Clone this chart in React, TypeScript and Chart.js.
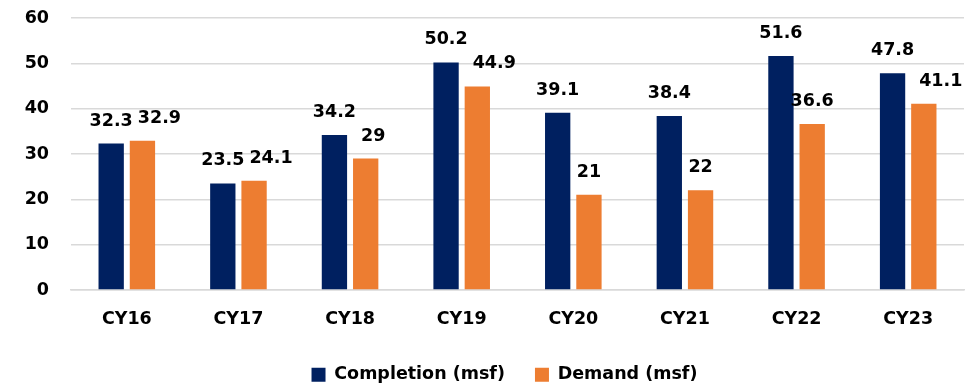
import React, { useEffect, useRef } from "react";
import { Chart, registerables } from "chart.js";

Chart.register(...registerables);

const categories = ["CY16", "CY17", "CY18", "CY19", "CY20", "CY21", "CY22", "CY23"];
const completion = [32.3, 23.5, 34.2, 50.2, 39.1, 38.4, 51.6, 47.8];
const demand = [32.9, 24.1, 29, 44.9, 21, 22, 36.6, 41.1];
const yTicks = [0, 10, 20, 30, 40, 50, 60];

const FONT = "'DejaVu Sans', sans-serif";
const FS = 17.5;

const labelPlugin = {
  id: "barLabels",
  afterDatasetsDraw(chart: any) {
    const ctx = chart.ctx;
    ctx.save();
    ctx.font = `bold ${FS}px ${FONT}`;
    ctx.fillStyle = "#000";
    ctx.textAlign = "center";
    ctx.textBaseline = "alphabetic";
    const capH = FS * 0.73;
    const m0 = chart.getDatasetMeta(0);
    const m1 = chart.getDatasetMeta(1);
    const d0 = chart.data.datasets[0].data;
    const d1 = chart.data.datasets[1].data;
    m0.data.forEach((b0: any, j: number) => {
      const b1 = m1.data[j];
      const t0 = String(d0[j]);
      const t1 = String(d1[j]);
      const w0 = ctx.measureText(t0).width;
      const w1 = ctx.measureText(t1).width;
      const y0 = b0.y - 18;
      const y1 = b1.y - 18;
      let x1 = b1.x;
      const r0 = b0.x + w0 / 2;
      const vOverlap = Math.abs(y0 - y1) < capH + 20;
      if (vOverlap && x1 - w1 / 2 < r0 + 5) {
        x1 = r0 + 5 + w1 / 2;
      }
      ctx.fillText(t0, b0.x, y0);
      ctx.fillText(t1, x1, y1);
    });
    ctx.restore();
  },
};

const legendShift = {
  id: "legendShift",
  afterLayout(chart: any) {
    if (chart.legend) {
      chart.legend.left += 10;
      chart.legend.right += 10;
    }
  },
};

export default function App() {
  const ref = useRef<HTMLCanvasElement>(null);
  useEffect(() => {
    if (!ref.current) return;
    const chart = new Chart(ref.current, {
      type: "bar",
      data: {
        labels: categories,
        datasets: [
          {
            label: "Completion (msf)",
            data: completion,
            backgroundColor: "#002060",
            categoryPercentage: 0.56,
            barPercentage: 0.81,
          },
          {
            label: "Demand (msf)",
            data: demand,
            backgroundColor: "#ED7D31",
            categoryPercentage: 0.56,
            barPercentage: 0.81,
          },
        ],
      },
      options: {
        animation: false,
        responsive: false,
        maintainAspectRatio: false,
        layout: { padding: { top: 0, right: 7, left: 17, bottom: 0 } },
        plugins: {
          legend: {
            position: "bottom",
            maxHeight: 50,
            labels: {
              boxWidth: 14,
              boxHeight: 14,
              padding: 30,
              color: "#000",
              font: { family: FONT, size: FS, weight: "bold" },
            },
          },
          tooltip: { enabled: false },
        },
        scales: {
          x: {
            afterFit: (axis: any) => {
              axis.height = 46;
            },
            grid: { display: false, drawTicks: false },
            border: { display: true, color: "#D9D9D9", width: 1.5 },
            ticks: {
              color: "#000",
              padding: 19,
              font: { family: FONT, size: FS, weight: "bold" },
            },
          },
          y: {
            min: 0,
            max: 60,
            afterFit: (axis: any) => {
              axis.width = 46;
              axis.paddingTop = 10;
            },
            afterBuildTicks: (axis: any) => {
              axis.ticks = yTicks.map((v) => ({ value: v }));
            },
            grid: { color: "#D9D9D9", lineWidth: 1.5, drawTicks: false },
            border: { display: false },
            ticks: {
              color: "#000",
              padding: 22,
              font: { family: FONT, size: FS, weight: "bold" },
            },
          },
        },
      },
      plugins: [labelPlugin, legendShift],
    });
    return () => chart.destroy();
  }, []);
  return (
    <div style={{ width: 963, height: 378 }}>
      <canvas ref={ref} width={963} height={378} style={{ display: "block", width: 963, height: 378 }} />
    </div>
  );
}
